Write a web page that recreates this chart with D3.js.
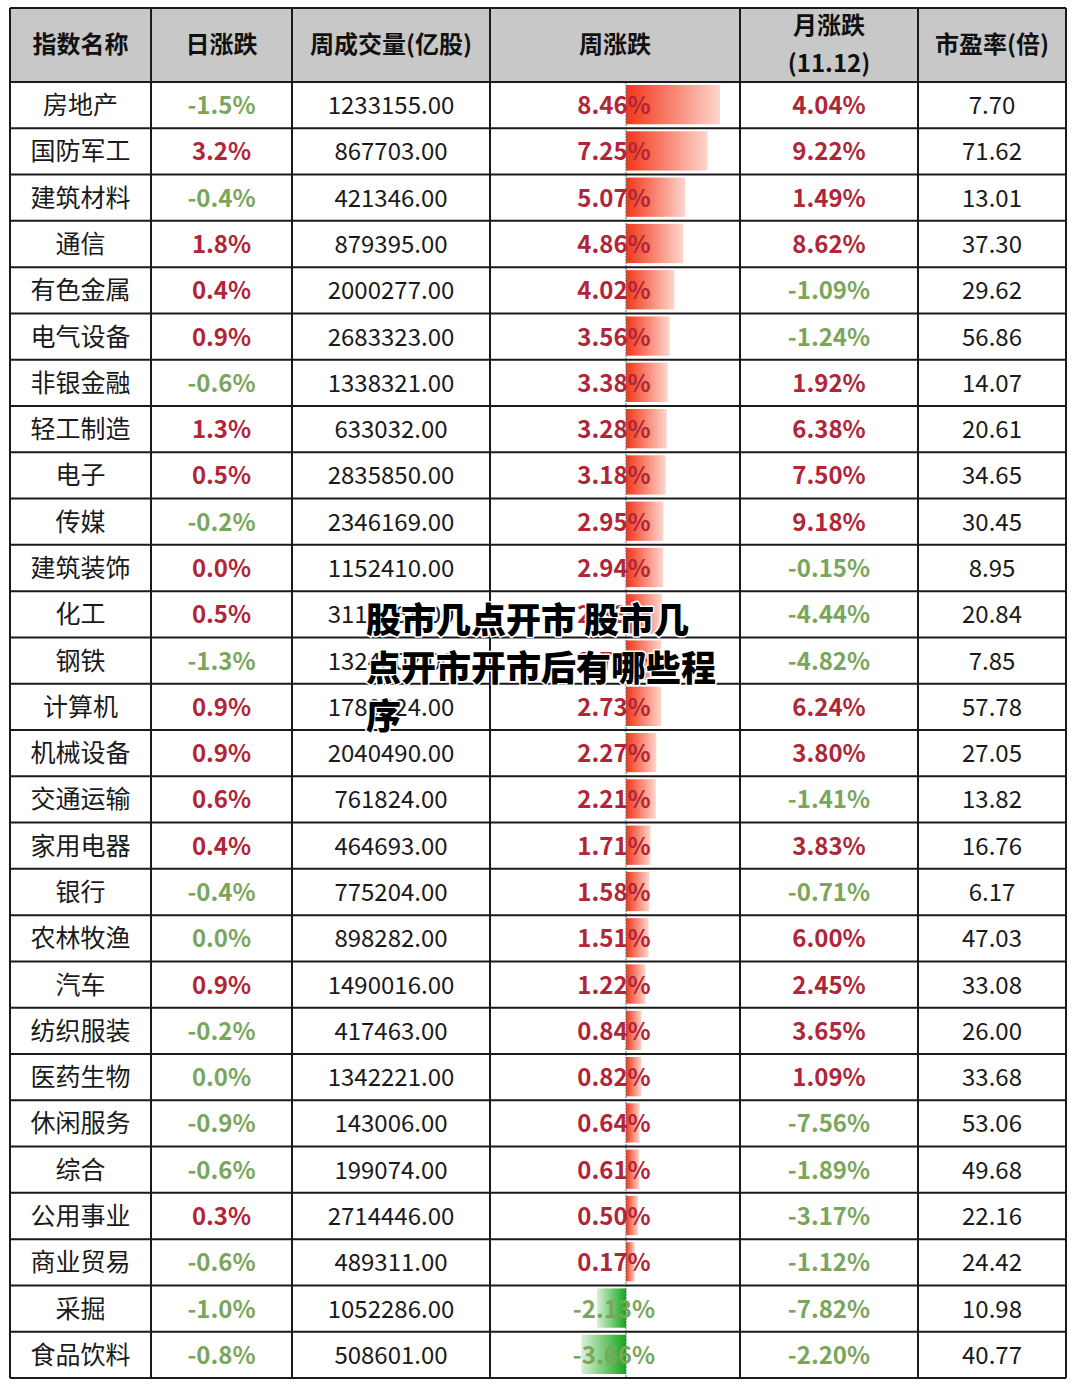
<!DOCTYPE html>
<html>
<head>
<meta charset="utf-8">
<script src="https://cdn.jsdelivr.net/npm/d3@7"></script>
<style>
  html, body { margin: 0; padding: 0; background: #fff; }
  svg { display: block; }
  text { font-family: "Noto Sans CJK SC", "Noto Sans", sans-serif; }
</style>
</head>
<body>
<div id="chart"></div>
<script>
const headers = ["指数名称", "日涨跌", "周成交量(亿股)", "周涨跌", "月涨跌\n(11.12)", "市盈率(倍)"];

const names = ["房地产", "国防军工", "建筑材料", "通信", "有色金属", "电气设备", "非银金融", "轻工制造",
  "电子", "传媒", "建筑装饰", "化工", "钢铁", "计算机", "机械设备", "交通运输", "家用电器", "银行",
  "农林牧渔", "汽车", "纺织服装", "医药生物", "休闲服务", "综合", "公用事业", "商业贸易", "采掘", "食品饮料"];

// 0.0% cells keep their sign (colour) from the unrounded value
const daily = [-1.5, 3.2, -0.4, 1.8, 0.4, 0.9, -0.6, 1.3, 0.5, -0.2, 0.04, 0.5, -1.3, 0.9, 0.9, 0.6, 0.4, -0.4,
  -0.04, 0.9, -0.2, -0.04, -0.9, -0.6, 0.3, -0.6, -1.0, -0.8];

const volume = [1233155, 867703, 421346, 879395, 2000277, 2683323, 1338321, 633032, 2835850, 2346169,
  1152410, 3114068, 1324302, 1780924, 2040490, 761824, 464693, 775204, 898282, 1490016, 417463,
  1342221, 143006, 199074, 2714446, 489311, 1052286, 508601];

const weekly = [8.46, 7.25, 5.07, 4.86, 4.02, 3.56, 3.38, 3.28, 3.18, 2.95, 2.94, 2.83, 2.76, 2.73, 2.27,
  2.21, 1.71, 1.58, 1.51, 1.22, 0.84, 0.82, 0.64, 0.61, 0.50, 0.17, -2.13, -3.66];

const monthly = [4.04, 9.22, 1.49, 8.62, -1.09, -1.24, 1.92, 6.38, 7.50, 9.18, -0.15, -4.44, -4.82, 6.24,
  3.80, -1.41, 3.83, -0.71, 6.00, 2.45, 3.65, 1.09, -7.56, -1.89, -3.17, -1.12, -7.82, -2.20];

const pe = [7.70, 71.62, 13.01, 37.30, 29.62, 56.86, 14.07, 20.61, 34.65, 30.45, 8.95, 20.84, 7.85, 57.78,
  27.05, 13.82, 16.76, 6.17, 47.03, 33.08, 26.00, 33.68, 53.06, 49.68, 22.16, 24.42, 10.98, 40.77];

const overlay = ["股市几点开市 股市几", "点开市开市后有哪些程", "序"];

const W = 1080, H = 1396;
const colEdges = [10, 151, 292, 490, 740, 918, 1066];
const headTop = 8, headBottom = 82, tableBottom = 1378;
const RED = "#b02638", GREEN = "#7aa65c";

const svg = d3.select("#chart").append("svg").attr("width", W).attr("height", H);

const y = d3.scaleBand().domain(d3.range(names.length)).range([headBottom, tableBottom]);
const colMid = i => (colEdges[i] + colEdges[i + 1]) / 2;

function pct(v, digits) {
  const s = Math.abs(v).toFixed(digits);
  return (v < 0 && +s !== 0 ? "-" : "") + s + "%";
}

// gradients for the data bars
const defs = svg.append("defs");
const gPos = defs.append("linearGradient").attr("id", "gpos");
gPos.append("stop").attr("offset", "0%").attr("stop-color", "#f2361a");
gPos.append("stop").attr("offset", "100%").attr("stop-color", "#fdd6cc");
const gNeg = defs.append("linearGradient").attr("id", "gneg").attr("x1", "100%").attr("x2", "0%");
gNeg.append("stop").attr("offset", "0%").attr("stop-color", "#16a61a");
gNeg.append("stop").attr("offset", "100%").attr("stop-color", "#d8f0d6");

// header background
svg.append("rect").attr("x", colEdges[0]).attr("y", headTop)
  .attr("width", colEdges[6] - colEdges[0]).attr("height", headBottom - headTop)
  .attr("fill", "#c8c8c8");

// header labels
headers.forEach((h, i) => {
  const lines = h.split("\n");
  const t = svg.append("text").attr("x", colMid(i)).attr("text-anchor", "middle")
    .attr("font-size", 24).attr("font-weight", 700).attr("fill", "#111");
  if (lines.length === 1) {
    t.attr("y", 53).text(h);
  } else {
    t.append("tspan").attr("x", colMid(i)).attr("y", 34).text(lines[0]);
    t.append("tspan").attr("x", colMid(i)).attr("y", 72).text(lines[1]);
  }
});

// weekly data bars
const axisX = 626;
const barLen = d3.scaleLinear().domain([0, d3.max(weekly, Math.abs)]).range([7, 94]);
svg.append("g").selectAll("rect").data(weekly).join("rect")
  .attr("x", d => d >= 0 ? axisX : axisX - barLen(-d))
  .attr("y", (d, i) => y(i) + 3)
  .attr("width", d => barLen(Math.abs(d)))
  .attr("height", y.bandwidth() - 7)
  .attr("fill", d => d >= 0 ? "url(#gpos)" : "url(#gneg)");
svg.append("line").attr("x1", axisX).attr("x2", axisX)
  .attr("y1", headBottom).attr("y2", tableBottom)
  .attr("stroke", "#3f7a78").attr("stroke-width", 1).attr("stroke-dasharray", "2,1");

// body cells
const rows = svg.append("g").selectAll("g").data(names).join("g")
  .attr("transform", (d, i) => `translate(0,${y(i) + y.bandwidth() / 2 + 9})`)
  .attr("font-size", 24);

rows.append("text").attr("x", colMid(0)).attr("text-anchor", "middle").attr("fill", "#1a1a1a")
  .attr("font-size", 25).text(d => d);
rows.append("text").attr("x", colMid(1)).attr("text-anchor", "middle").attr("font-weight", 700)
  .attr("fill", (d, i) => daily[i] >= 0 ? RED : GREEN)
  .text((d, i) => pct(daily[i], 1));
rows.append("text").attr("x", colMid(2)).attr("text-anchor", "middle").attr("fill", "#1a1a1a")
  .text((d, i) => volume[i].toFixed(2));
rows.append("text").attr("x", 614).attr("text-anchor", "middle").attr("font-weight", 700)
  .attr("fill", (d, i) => weekly[i] >= 0 ? RED : GREEN)
  .text((d, i) => pct(weekly[i], 2));
rows.append("text").attr("x", colMid(4)).attr("text-anchor", "middle").attr("font-weight", 700)
  .attr("fill", (d, i) => monthly[i] >= 0 ? RED : GREEN)
  .text((d, i) => pct(monthly[i], 2));
rows.append("text").attr("x", colMid(5)).attr("text-anchor", "middle").attr("fill", "#1a1a1a")
  .text((d, i) => pe[i].toFixed(2));

// grid
const grid = svg.append("g").attr("stroke", "#1a1a1a").attr("stroke-width", 2);
const hLines = [headTop, headBottom].concat(d3.range(1, names.length + 1).map(i => y(i - 1) + y.bandwidth()));
grid.selectAll("line.h").data(hLines).join("line").attr("class", "h")
  .attr("x1", colEdges[0]).attr("x2", colEdges[6]).attr("y1", d => d).attr("y2", d => d);
grid.selectAll("line.v").data(colEdges).join("line").attr("class", "v")
  .attr("x1", d => d).attr("x2", d => d).attr("y1", headTop).attr("y2", tableBottom);

// watermark title laid over the table
svg.append("g").selectAll("text").data(overlay).join("text")
  .attr("x", 366).attr("y", (d, i) => 633 + i * 48)
  .attr("font-size", 35).attr("font-weight", 900).attr("fill", "#000")
  .attr("stroke", "#fff").attr("stroke-width", 3).attr("paint-order", "stroke")
  .attr("stroke-linejoin", "round")
  .text(d => d);
</script>
</body>
</html>
